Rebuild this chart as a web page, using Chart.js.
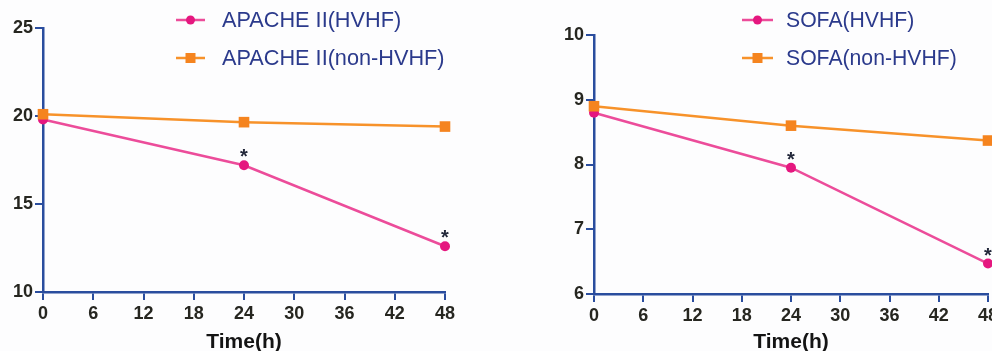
<!DOCTYPE html>
<html><head><meta charset="utf-8">
<script src="https://cdn.jsdelivr.net/npm/chart.js@4.4.1/dist/chart.umd.min.js"></script>
<style>
html,body{margin:0;padding:0;background:#fdfdfe;overflow:hidden;width:992px;height:351px;}
#w1{position:absolute;left:0;top:0;width:496px;height:351px;}
#w2{position:absolute;left:496px;top:0;width:520px;height:351px;}
</style></head><body>
<div id="w1"><canvas id="c1"></canvas></div>
<div id="w2"><canvas id="c2"></canvas></div>
<script>
const timePoints = [0, 24, 48];
const xTicks = [0, 6, 12, 18, 24, 30, 36, 42, 48];
const apacheHVHF = [19.8, 17.2, 12.6];
const apacheNonHVHF = [20.1, 19.65, 19.4];
const apacheSig = [false, true, true];
const apacheYTicks = [10, 15, 20, 25];
const sofaHVHF = [8.8, 7.95, 6.47];
const sofaNonHVHF = [8.9, 8.6, 8.37];
const sofaSig = [false, true, true];
const sofaYTicks = [6, 7, 8, 9, 10];

const AXIS = '#2a4d9e';
const PINK = '#ec4c9a';
const PINK_PT = '#e5177f';
const ORANGE = '#f7922a';
const ORANGE_PT = '#f5841f';
const FONT = "'Liberation Sans', Arial, sans-serif";

const legendPlugin = {
  id: 'customLegend',
  afterDraw(chart, args, opts) {
    const ctx = chart.ctx;
    chart.data.datasets.forEach((ds, i) => {
      const y = opts.y0 + i * opts.dy;
      ctx.save();
      ctx.strokeStyle = ds.borderColor;
      ctx.lineWidth = 2.5;
      ctx.beginPath(); ctx.moveTo(opts.x0, y); ctx.lineTo(opts.x1, y); ctx.stroke();
      const cx = (opts.x0 + opts.x1) / 2;
      ctx.fillStyle = ds.pointBackgroundColor;
      ctx.beginPath();
      if (ds.pointStyle === 'rect') { ctx.rect(cx - 5, y - 5, 10, 10); }
      else { ctx.arc(cx, y, 4.5, 0, Math.PI * 2); }
      ctx.fill();
      ctx.fillStyle = '#2b3a8c';
      ctx.font = opts.size + 'px ' + FONT;
      ctx.textBaseline = 'middle';
      ctx.textAlign = 'left';
      ctx.fillText(ds.label, opts.tx, y + 1);
      ctx.restore();
    });
  }
};

const starPlugin = {
  id: 'stars',
  afterDatasetsDraw(chart) {
    const ctx = chart.ctx;
    chart.data.datasets.forEach((ds, i) => {
      if (!ds.sig) return;
      const meta = chart.getDatasetMeta(i);
      ds.sig.forEach((s, j) => {
        if (!s) return;
        const p = meta.data[j];
        ctx.save();
        ctx.fillStyle = '#23283a';
        ctx.font = 'bold 20px ' + FONT;
        ctx.textAlign = 'center';
        ctx.textBaseline = 'alphabetic';
        ctx.fillText('*', p.x, p.y - 2);
        ctx.restore();
      });
    });
  }
};

function makeChart(id, labels, hv, nonhv, sig, yTicks, pad, yWidth, xHeight, legendPos) {
  const toPts = arr => timePoints.map((t, i) => ({ x: t, y: arr[i] }));
  return new Chart(document.getElementById(id), {
    type: 'line',
    data: {
      datasets: [
        { label: labels[0], data: toPts(hv), borderColor: PINK, pointBackgroundColor: PINK_PT, clip: false,
          pointStyle: 'circle', pointRadius: 5, pointBorderWidth: 0, borderWidth: 2.5, order: 1, sig: sig },
        { label: labels[1], data: toPts(nonhv), borderColor: ORANGE, pointBackgroundColor: ORANGE_PT, clip: false,
          pointStyle: 'rect', pointRadius: 7.5, pointBorderWidth: 0, borderWidth: 2.5, order: 0 }
      ]
    },
    options: {
      responsive: true, maintainAspectRatio: false, animation: false, events: [],
      layout: { padding: pad },
      plugins: { legend: { display: false }, tooltip: { enabled: false }, customLegend: legendPos },
      scales: {
        x: {
          type: 'linear', min: xTicks[0], max: xTicks[xTicks.length - 1],
          afterBuildTicks: s => { s.ticks = xTicks.map(v => ({ value: v })); },
          afterFit: s => { s.height = xHeight; },
          grid: { drawOnChartArea: false, drawTicks: true, tickLength: 8, color: AXIS, lineWidth: 2 },
          border: { display: true, color: AXIS, width: 2.5 },
          ticks: { font: { family: FONT, size: 18, weight: 'bold' }, color: '#262620', padding: 3, maxRotation: 0 },
          title: { display: true, text: 'Time(h)', font: { family: FONT, size: 21, weight: 'bold', lineHeight: 0.8 }, color: '#141414', padding: 0 }
        },
        y: {
          type: 'linear', min: yTicks[0], max: yTicks[yTicks.length - 1],
          afterBuildTicks: s => { s.ticks = yTicks.map(v => ({ value: v })); },
          afterFit: s => { s.width = yWidth; },
          grid: { drawOnChartArea: false, drawTicks: true, tickLength: 8, color: AXIS, lineWidth: 2 },
          border: { display: true, color: AXIS, width: 2.5 },
          ticks: { font: { family: FONT, size: 18, weight: 'bold' }, color: '#262620', padding: 2 }
        }
      }
    },
    plugins: [legendPlugin, starPlugin]
  });
}

makeChart('c1', ['APACHE II(HVHF)', 'APACHE II(non-HVHF)'], apacheHVHF, apacheNonHVHF, apacheSig, apacheYTicks,
  { left: 0, right: 51, top: 28, bottom: 0 }, 43, 59, { x0: 176, x1: 205, tx: 222, y0: 20, dy: 38, size: 21.7 });
makeChart('c2', ['SOFA(HVHF)', 'SOFA(non-HVHF)'], sofaHVHF, sofaNonHVHF, sofaSig, sofaYTicks,
  { left: 0, right: 28, top: 35, bottom: 0 }, 98, 57, { x0: 246, x1: 277, tx: 290, y0: 20, dy: 38, size: 21.2 });
</script>
</body></html>
